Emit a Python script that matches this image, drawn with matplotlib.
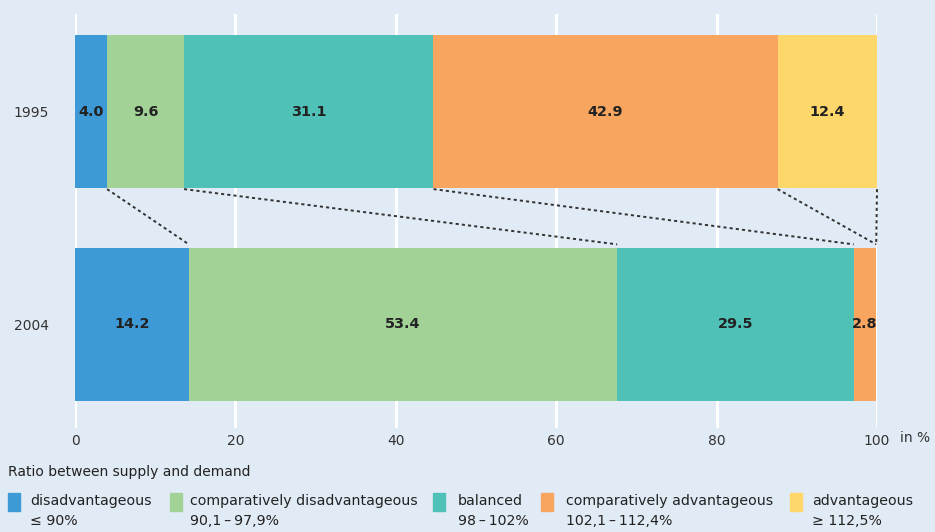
import matplotlib.pyplot as plt
from matplotlib.patches import Rectangle
import numpy as np

years = ["1995", "2004"]
categories = ["disadvantageous", "comparatively disadvantageous", "balanced",
              "comparatively advantageous", "advantageous"]
ranges = ["≤ 90%", "90,1\u2009\u2013\u200997,9%", "98\u2009\u2013\u2009102%",
          "102,1\u2009\u2013\u2009112,4%", "≥ 112,5%"]
shares_1995 = [4.0, 9.6, 31.1, 42.9, 12.4]
shares_2004 = [14.2, 53.4, 29.5, 2.8, 0.0]
colors = ["#3d9ad6", "#a2d296", "#4fc1b7", "#f7a55f", "#fed76a"]

bg = "#e1ebf5"
W, H = 935, 532

plt.rcParams["font.family"] = ["DejaVu Sans"]
fig = plt.figure(figsize=(W / 100, H / 100), dpi=100, facecolor=bg)
ax = fig.add_axes([75 / W, 104 / H, 802 / W, 414 / H], facecolor=bg)

bar_h = 0.72
ypos = np.arange(len(years))
rows = [shares_1995, shares_2004]

for yi, row in zip(ypos, rows):
    left = 0.0
    for val, col in zip(row, colors):
        if val > 0:
            ax.barh(yi, val, left=left, height=bar_h, color=col, zorder=2)
            ax.text(left + val / 2, yi, f"{val:.1f}", ha="center", va="center",
                    fontsize=10.4, fontweight="bold", color="#222222", zorder=3)
        left += val

# dotted connectors between the right edges of each category
edges_1995 = np.cumsum(shares_1995)
edges_2004 = np.cumsum(shares_2004)
y_top = ypos[0] + bar_h / 2 + 0.005
y_bot = ypos[1] - bar_h / 2 - 0.015
for a, b in zip(edges_1995, edges_2004):
    ax.plot([a, b], [y_top, y_bot], color="#333333", lw=1.4,
            linestyle=(0, (1.6, 1.6)), zorder=3, clip_on=False)

ax.set_xlim(0, 100)
ax.set_ylim(1.489, -0.459)
ax.set_xticks([0, 20, 40, 60, 80, 100])
ax.set_yticks(ypos)
ax.set_yticklabels(years)
ax.grid(axis="x", color="white", lw=2.2, zorder=0)
ax.set_axisbelow(True)
for s in ax.spines.values():
    s.set_visible(False)
ax.tick_params(axis="x", length=0, pad=4, labelsize=10, labelcolor="#333333")
ax.tick_params(axis="y", length=0, pad=19, labelsize=10, labelcolor="#333333")

fig.text(900 / W, 1 - 438 / H, "in %", fontsize=10, color="#333333", va="center")

# legend
fig.text(8 / W, 1 - 472 / H, "Ratio between supply and demand", fontsize=10,
         color="#222222", va="center")
patch_x = [8, 170, 433, 541, 790]
text_x = [30, 190, 458, 566, 812]
for px, tx, lab, rng, col in zip(patch_x, text_x, categories, ranges, colors):
    fig.add_artist(Rectangle((px / W, 1 - 511 / H), 12 / W, 18 / H,
                             transform=fig.transFigure, color=col))
    fig.text(tx / W, 1 - 501 / H, lab, fontsize=10.2, color="#222222", va="center")
    fig.text(tx / W, 1 - 521 / H, rng, fontsize=10.2, color="#222222", va="center")

fig.savefig("out.png", dpi=100, facecolor=bg)
